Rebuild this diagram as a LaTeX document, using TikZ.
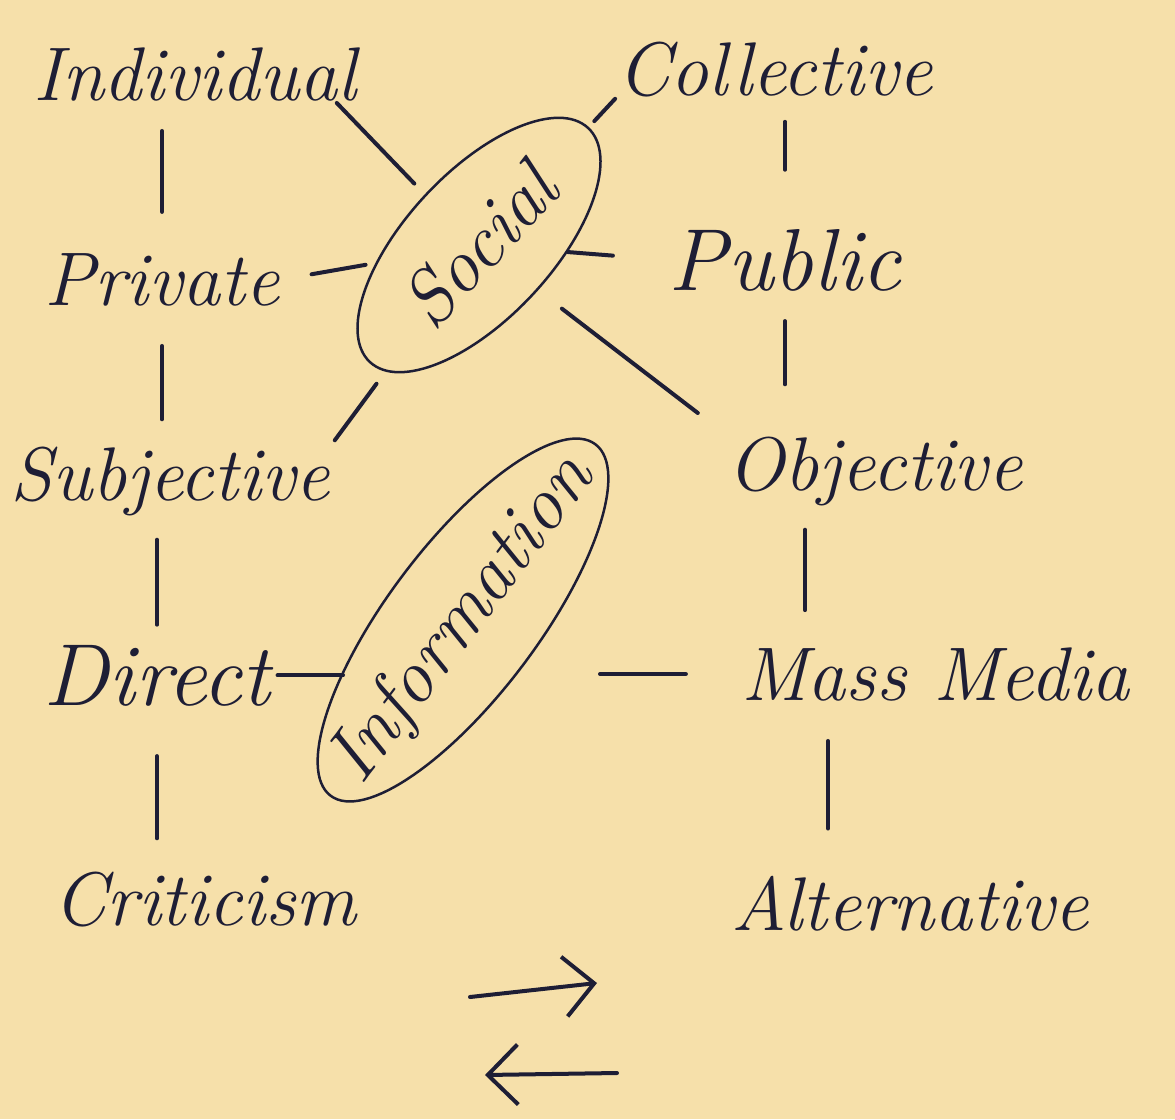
\documentclass[tikz,border=0pt]{standalone}
\usepackage{fontspec}
\usetikzlibrary{shapes.geometric, calc, arrows.meta}
\definecolor{paper}{HTML}{F6E0AA}
\definecolor{ink}{HTML}{1E1E35}
\tikzset{
  word/.style = {anchor=base, inner sep=2pt, text=ink,
    font=\fontsize{76}{80}\selectfont\itshape},
  bigword/.style = {word, font=\fontsize{88}{92}\selectfont\itshape},
  ring/.style = {draw=ink, ellipse, line width=2.5pt, inner sep=0pt,
    text=ink, font=\fontsize{76}{80}\selectfont\itshape},
  link/.style = {draw=ink, line width=4pt, line cap=round}}

\begin{document}
\begin{tikzpicture}[x=1pt, y=-1pt, >={Straight Barb[length=30pt, width=60pt]}]
 \fill[paper] (0,0) rectangle (1175,1119);
 \useasboundingbox (0,0) rectangle (1175,1119);

 % left column
 \node [word] (ind) at (195,100) {Individual};
 \node [word] (priv) at (162,305) {Private};
 \node [word] (subj) at (170,500) {Subjective};
 \node [bigword] (dir) at (157,705) {Direct};
 \node [word] (crit) at (205,925) {Criticism};
 % right column
 \node [word] (col) at (775,95) {Collective};
 \node [bigword] (pub) at (785,290) {Public};
 \node [word] (obj) at (875,490) {Objective};
 \node [word] (mm) at (935,700) {Mass Media};
 \node [word] (alt) at (910,930) {Alternative};
 % the two rings
 \node [ring, rotate=47, minimum width=320pt, minimum height=146pt] (soc)
   at (479,245) {\makebox[0pt]{Social}};
 \node [ring, rotate=53, minimum width=440pt, minimum height=150pt] (info)
   at (463,620) {\makebox[0pt]{Information}};

 \draw[link, shorten <=28pt, shorten >=39pt] (ind.south -| priv.north) -- (priv.north);
 \draw[link, shorten <=38pt, shorten >=25pt] (priv.south) -- (priv.south |- subj.north);
 \draw[link, shorten <=22pt, shorten >=18pt] (subj.south -| dir.north) -- (dir.north);
 \draw[link, shorten <=48pt, shorten >=31pt] (dir.south) -- (dir.south |- crit.north);

 \draw[link, shorten <=23pt, shorten >=57pt] (col.south -| pub.north) -- (pub.north);
 \draw[link, shorten <=28pt, shorten >=50pt] (pub.south) -- (pub.south |- obj.north);
 \draw[link, shorten <=22pt, shorten >=35pt] ($(obj.south)+(-70,0)$) -- ($(obj.south |- mm.north)+(-70,0)$);
 \draw[link, shorten <=38pt, shorten >=45pt] ($(mm.south)+(-107,0)$) -- ($(mm.south |- alt.north)+(-107,0)$);

 \draw[link, shorten >=15pt] ($(ind.south east)+(-22,0)$) -- (soc.north);
 \draw[link, shorten >=8pt] (col.south west) -- (soc);
 \draw[link, shorten <=30pt, shorten >=10pt] (priv.east) -- (soc);
 \draw[link, shorten >=54pt] (soc) -- (pub.west);
 \draw[link, shorten <=15pt, shorten >=5pt] (soc) -- (subj.north east);
 \draw[link, shorten <=30pt, shorten >=35pt] (soc) -- (obj.north west);
 \draw[link, shorten <=5pt, shorten >=120pt] (dir.east) -- (dir.east -| info);
 \draw[link, shorten <=53pt, shorten >=137pt] (mm.west) -- (mm.west -| info);

 % arrows below
 \coordinate (fwd0) at (470,997);
 \coordinate (fwd1) at (597,983);
 \coordinate (back0) at (617,1073);
 \coordinate (back1) at (485,1075);
 \draw[link, ->] (fwd0) -- (fwd1);
 \draw[link, ->] (back0) -- (back1);
\end{tikzpicture}
\end{document}
